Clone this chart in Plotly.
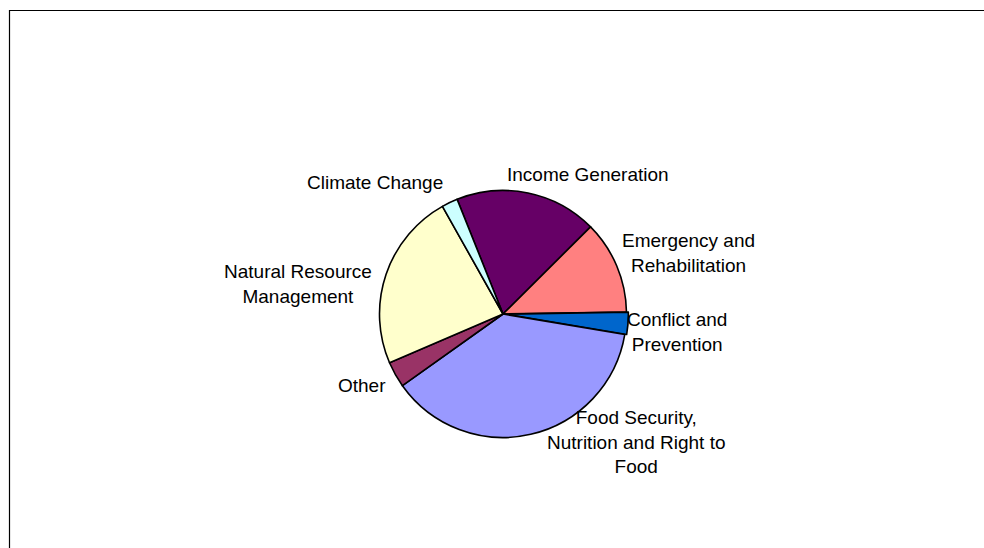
import plotly.graph_objects as go

# Data (percent share)
categories = ["Income Generation", "Emergency and Rehabilitation", "Conflict and Prevention",
              "Food Security, Nutrition and Right to Food", "Other",
              "Natural Resource Management", "Climate Change"]
values = [18.6, 12.2, 2.9, 37.5, 3.4, 23.3, 2.1]
colors = ["#660066", "#FF8080", "#0066CC", "#9999FF", "#993366", "#FFFFCC", "#CCFFFF"]
label_texts = ["Income Generation", "Emergency and<br>Rehabilitation", "Conflict and<br>Prevention",
               "Food Security,<br>Nutrition and Right to<br>Food", "Other",
               "Natural Resource<br>Management", "Climate Change"]

W, H = 984, 548
cx, cy, r = 503, 314, 123.5
pulls = [0, 0, 0.015, 0, 0, 0, 0]
rr = r * (1 + max(pulls))

fig = go.Figure(go.Pie(
    labels=categories, values=values, sort=False, direction="clockwise",
    rotation=-21.8, pull=pulls,
    marker=dict(colors=colors, line=dict(color="black", width=1.6)),
    textinfo="none", hoverinfo="label+percent", showlegend=False,
    domain=dict(x=[(cx - rr) / W, (cx + rr) / W], y=[(H - cy - rr) / H, (H - cy + rr) / H]),
))

# label positions in pixels (centre of text block)
label_pos = [(588, 175), (688, 253), (677, 332), (636, 442), (362, 385), (298, 284), (375, 182)]
for txt, (px, py) in zip(label_texts, label_pos):
    fig.add_annotation(x=px / W, y=1 - py / H, xref="paper", yref="paper", text=txt,
                       showarrow=False, xanchor="center", yanchor="middle", align="center",
                       font=dict(family="Liberation Sans, Arial, sans-serif", size=19, color="black"))

# chart frame
fig.add_shape(type="rect", xref="paper", yref="paper",
              x0=9.5 / W, x1=1.02, y0=-0.02, y1=1 - 10.5 / H,
              line=dict(color="black", width=1.2), fillcolor="rgba(0,0,0,0)")

fig.update_layout(width=W, height=H, margin=dict(l=0, r=0, t=0, b=0),
                  paper_bgcolor="white", plot_bgcolor="white")
fig.write_html("out.html")
